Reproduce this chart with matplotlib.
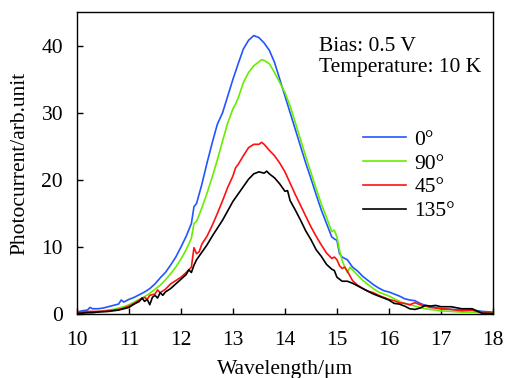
import matplotlib
matplotlib.use("Agg")
import matplotlib.pyplot as plt

# values (wavelength in um, photocurrent arb. unit)
wl_0 = [10.0, 10.1, 10.2, 10.25, 10.3, 10.4, 10.5, 10.6, 10.7, 10.8, 10.85, 10.9, 11.0,
        11.1, 11.2, 11.3, 11.4, 11.5, 11.6, 11.7, 11.8, 11.9, 12.0, 12.1, 12.2, 12.25,
        12.3, 12.4, 12.5, 12.6, 12.7, 12.8, 12.9, 13.0, 13.1, 13.2, 13.3, 13.4, 13.5,
        13.6, 13.7, 13.8, 13.9, 14.0, 14.1, 14.2, 14.3, 14.4, 14.5, 14.6, 14.7, 14.8,
        14.9, 14.95, 15.0, 15.05, 15.1, 15.2, 15.3, 15.4, 15.5, 15.6, 15.7, 15.8, 15.9,
        16.0, 16.1, 16.2, 16.3, 16.4, 16.5, 16.6, 16.7, 16.8, 16.9, 17.0, 17.2, 17.4,
        17.6, 17.8, 18.0]
pc_0 = [0.3, 0.5, 0.6, 1.0, 0.8, 0.8, 0.9, 1.1, 1.3, 1.5, 2.1, 1.8, 2.2,
        2.5, 2.9, 3.3, 3.8, 4.5, 5.4, 6.2, 7.3, 8.5, 10.0, 11.6, 13.5, 16.0,
        16.5, 19.3, 22.5, 25.5, 28.3, 30.0, 32.5, 35.0, 37.3, 39.5, 40.8, 41.5, 41.2,
        40.4, 39.3, 37.5, 35.0, 32.5, 30.0, 27.5, 25.0, 22.5, 20.2, 17.8, 15.5, 13.5,
        11.5, 11.2, 11.0, 9.0, 8.5, 8.1, 7.0, 6.4, 5.6, 5.0, 4.4, 3.9, 3.5,
        3.3, 3.0, 2.7, 2.3, 2.1, 2.0, 1.6, 1.3, 1.1, 1.0, 0.8, 0.7, 0.6,
        0.6, 0.4, 0.3]

wl_90 = [10.0, 10.1, 10.2, 10.3, 10.4, 10.5, 10.6, 10.7, 10.8, 10.9, 11.0, 11.1, 11.2,
         11.3, 11.4, 11.5, 11.6, 11.7, 11.8, 11.9, 12.0, 12.1, 12.2, 12.25, 12.3, 12.4,
         12.5, 12.6, 12.7, 12.8, 12.9, 13.0, 13.05, 13.1, 13.2, 13.3, 13.4, 13.5, 13.55,
         13.6, 13.7, 13.8, 13.9, 14.0, 14.1, 14.2, 14.3, 14.4, 14.5, 14.6, 14.7, 14.8,
         14.9, 14.95, 15.0, 15.05, 15.1, 15.15, 15.2, 15.25, 15.3, 15.4, 15.5, 15.6, 15.7,
         15.8, 15.9, 16.0, 16.1, 16.2, 16.3, 16.4, 16.5, 16.6, 16.7, 16.8, 17.0, 17.2,
         17.4, 17.6, 17.8, 18.0]
pc_90 = [0.1, 0.2, 0.3, 0.1, 0.4, 0.5, 0.6, 0.7, 0.9, 1.1, 1.4, 1.8, 2.2,
         2.6, 3.1, 3.7, 4.3, 5.1, 6.0, 7.0, 8.2, 9.6, 11.3, 13.5, 13.8, 15.8,
         18.0, 20.4, 23.0, 25.8, 28.5, 30.6, 31.3, 32.2, 34.5, 36.0, 37.0, 37.6, 37.9,
         37.8, 37.3, 36.0, 34.5, 33.0, 31.0, 28.5, 26.0, 23.5, 21.1, 18.7, 16.4, 14.4,
         12.3, 12.5, 11.5, 9.5, 8.0, 7.0, 6.2, 7.0, 6.6, 5.8, 5.0, 4.4, 3.8,
         3.3, 3.0, 2.7, 2.3, 1.9, 1.6, 1.4, 1.2, 1.0, 0.8, 0.7, 0.5, 0.4,
         0.3, 0.3, 0.2, 0.2]

wl_45 = [10.0, 10.2, 10.4, 10.6, 10.8, 10.9, 11.0, 11.1, 11.2, 11.3, 11.35, 11.4, 11.5,
         11.55, 11.6, 11.7, 11.8, 11.9, 12.0, 12.1, 12.2, 12.25, 12.3, 12.35, 12.4, 12.5,
         12.6, 12.7, 12.8, 12.9, 13.0, 13.05, 13.1, 13.2, 13.3, 13.4, 13.5, 13.55, 13.6,
         13.7, 13.8, 13.9, 14.0, 14.1, 14.2, 14.3, 14.4, 14.5, 14.6, 14.7, 14.8, 14.9,
         14.95, 15.0, 15.05, 15.1, 15.15, 15.2, 15.3, 15.4, 15.5, 15.6, 15.7, 15.8, 15.9,
         16.0, 16.1, 16.2, 16.3, 16.4, 16.5, 16.6, 16.7, 16.8, 17.0, 17.2, 17.4, 17.6,
         17.8, 18.0]
pc_45 = [0.2, 0.4, 0.4, 0.5, 0.7, 0.9, 1.2, 1.6, 2.1, 2.5, 2.2, 2.8, 3.0,
         3.6, 3.2, 3.7, 4.5, 5.0, 5.5, 6.2, 7.0, 9.9, 9.0, 9.3, 10.4, 11.6,
         13.2, 15.0, 16.9, 18.9, 20.6, 21.8, 22.3, 23.6, 24.8, 25.3, 25.3, 25.6, 25.3,
         24.4, 23.6, 22.5, 21.2, 19.5, 17.8, 16.2, 14.6, 13.0, 11.6, 10.3, 9.1, 8.3,
         8.5, 8.1, 7.2, 6.8, 7.0, 6.4, 5.0, 4.3, 3.8, 3.4, 3.2, 2.8, 2.5,
         2.2, 2.0, 1.7, 1.6, 1.4, 1.7, 1.4, 1.2, 1.0, 0.8, 0.7, 0.5, 0.6,
         0.2, 0.1]

wl_135 = [10.0, 10.2, 10.4, 10.6, 10.8, 11.0, 11.1, 11.2, 11.25, 11.3, 11.35, 11.4, 11.45,
          11.5, 11.55, 11.6, 11.65, 11.7, 11.8, 11.9, 12.0, 12.1, 12.15, 12.2, 12.25, 12.3,
          12.4, 12.5, 12.6, 12.7, 12.8, 12.9, 13.0, 13.1, 13.2, 13.3, 13.4, 13.5, 13.6,
          13.65, 13.7, 13.8, 13.9, 14.0, 14.05, 14.1, 14.2, 14.3, 14.4, 14.5, 14.6, 14.7,
          14.8, 14.9, 14.95, 15.0, 15.1, 15.2, 15.3, 15.4, 15.5, 15.6, 15.7, 15.8, 15.9,
          16.0, 16.1, 16.2, 16.3, 16.4, 16.5, 16.6, 16.7, 16.8, 16.9, 17.0, 17.2, 17.4,
          17.6, 17.8, 18.0]
pc_135 = [0.1, 0.2, 0.3, 0.4, 0.6, 1.0, 1.5, 1.9, 2.4, 1.9, 2.2, 1.4, 2.5,
          2.8, 2.4, 3.2, 2.8, 3.3, 3.8, 4.5, 5.2, 5.9, 6.6, 6.2, 7.3, 8.1,
          9.2, 10.3, 11.6, 12.8, 14.0, 15.4, 16.8, 17.9, 19.0, 20.1, 20.9, 21.2, 21.0,
          21.3, 20.9, 20.3, 19.4, 18.3, 18.4, 16.9, 15.5, 14.0, 12.4, 11.1, 9.6, 8.6,
          7.4, 6.7, 6.5, 5.5, 4.9, 4.9, 4.6, 4.2, 3.8, 3.4, 3.0, 2.7, 2.4,
          2.1, 1.6, 1.5, 1.2, 0.8, 0.7, 0.9, 1.3, 1.2, 1.3, 1.1, 1.1, 0.8,
          0.8, 0.1, 0.1]

labels = ['0°', '90°', '45°', '135°']
colors = ['#2255ff', '#66ee00', '#ff1010', '#000000']

plt.rcParams['font.family'] = ['Liberation Serif', 'DejaVu Serif']

fig = plt.figure(figsize=(5.05, 3.78), dpi=100)
ax = fig.add_axes([0.1525, 0.169, 0.8235, 0.799])

series = [(wl_0, pc_0), (wl_90, pc_90), (wl_45, pc_45), (wl_135, pc_135)]
for (wl, pc), lab, col in zip(series, labels, colors):
    ax.plot(wl, pc, color=col, lw=1.2, label=lab)

ax.set_xlim(10, 18)
ax.set_ylim(0, 45)
ax.set_xticks(range(10, 19))
ax.set_yticks([0, 10, 20, 30, 40])
ax.tick_params(direction='in', length=4, width=1, labelsize=15.5, pad=10,
               top=False, right=False)
ax.tick_params(axis='x', pad=12)
for sp in ax.spines.values():
    sp.set_linewidth(1.0)

ax.set_xlabel('Wavelength/μm', fontsize=15.5, labelpad=7)
ax.set_ylabel('Photocurrent/arb.unit', fontsize=15.5, labelpad=9)

ax.text(14.65, 38.3, 'Bias: 0.5 V\nTemperature: 10 K', fontsize=15.5,
        va='center', ha='left', linespacing=1.1)

ax.legend(loc='upper left', bbox_to_anchor=(0.6875, 0.61), frameon=False,
          fontsize=15.5, handlelength=2.0, handletextpad=0.4, labelspacing=0.17,
          borderpad=0, borderaxespad=0)

fig.savefig('out.png', dpi=100)
